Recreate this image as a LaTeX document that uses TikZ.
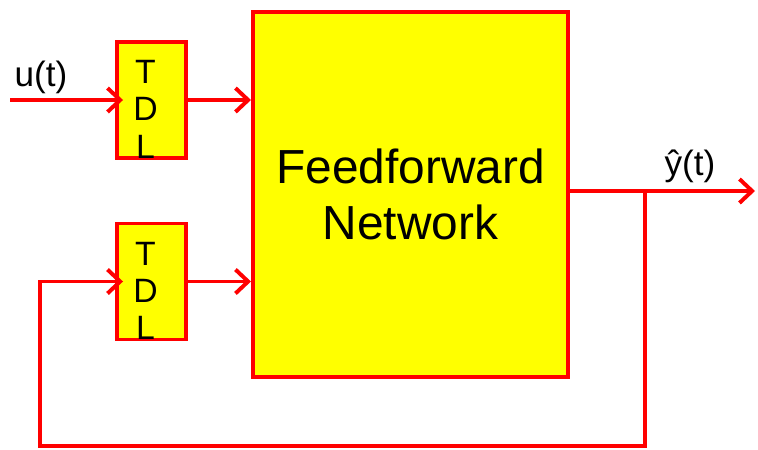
\documentclass[tikz,border=0pt]{standalone}
\usepackage{fontspec}
\setmainfont{Liberation Sans}
\usepackage{tikz}
\usetikzlibrary{arrows.meta, positioning, calc}
\definecolor{sigred}{RGB}{255,0,0}
\definecolor{boxyellow}{RGB}{255,255,0}
\tikzstyle{block} = [draw=sigred, fill=boxyellow, line width=2.8pt, rectangle, inner sep=0pt]
\tikzstyle{tdl} = [block, minimum width=1.725cm, minimum height=2.9cm,
  label={[align=center, font=\fontsize{24}{26.5}\selectfont, xshift=-0.15cm, yshift=-0.23cm]center:T\\D\\L}]
\tikzstyle{link} = [draw=sigred, line width=2.8pt]
\tikzstyle{arrow} = [link, -{Straight Barb[length=9pt, width=17pt, line width=2.8pt]}]

\begin{document}
\begin{tikzpicture}[x=0.025cm, y=-0.025cm]

\useasboundingbox (0, 0) rectangle (758, 449);

% Blocks
\node [block, minimum width=7.875cm, minimum height=9.125cm, align=center,
  font=\fontsize{34}{40}\selectfont] (ffn) at (410.5, 194.5) {Feedforward\\Network};
\node [tdl] (tdla) at (151.5, 100) {};
\node [tdl] (tdlb) at (151.5, 281.5) {};

% Signals
\coordinate (in) at (10, 100);
\coordinate (out) at (755, 191);
\coordinate (branch) at (645, 191);
\coordinate (fbbot) at (40, 446);

\node [font=\fontsize{25}{30}\selectfont] (ulabel) at (41, 77) {u(t)};
\node [font=\fontsize{25}{30}\selectfont] (ylabel) at (690, 166) {ŷ(t)};

% Connections
\draw [arrow, shorten >=-0.2cm] (in) -- (tdla.west);
\draw [arrow] (tdla.east) -- (tdla.east -| ffn.west);
\draw [arrow] (tdlb.east) -- (tdlb.east -| ffn.west);
\draw [arrow] (out -| ffn.east) -- (out);

% Feedback
\draw [arrow, line join=miter, shorten >=-0.2cm] (branch) |- (fbbot) |- (tdlb.west);

\end{tikzpicture}
\end{document}
